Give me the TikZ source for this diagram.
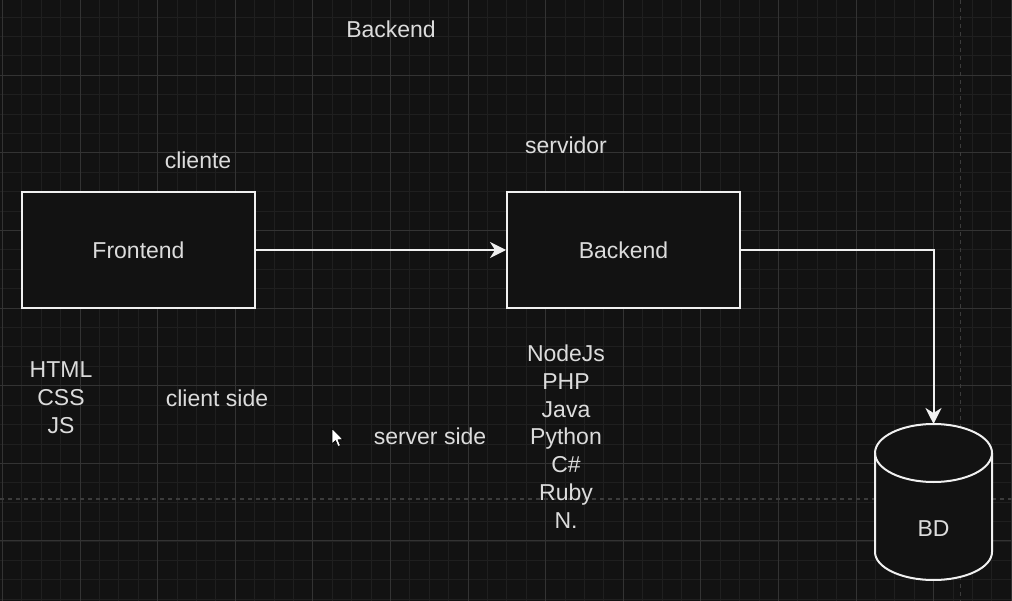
\documentclass[tikz,border=0pt]{standalone}
\usepackage{fontspec}
\setmainfont{Liberation Sans}
\usetikzlibrary{arrows.meta}
\definecolor{bg}{HTML}{121212}
\definecolor{minorgrid}{HTML}{1F1F1F}
\definecolor{majorgrid}{HTML}{333333}
\definecolor{pagegrid}{HTML}{3C3C3C}
\definecolor{ink}{HTML}{F0F0F0}
\definecolor{txt}{HTML}{DCDCDC}
\tikzset{
  minorline/.style={minorgrid, line width=0.8pt},
  majorline/.style={majorgrid, line width=1pt},
  pageline/.style={pagegrid, line width=1.2pt, dash pattern=on 4pt off 4pt},
  boxnode/.style={draw=ink, fill=bg, line width=2pt, minimum width=233pt, minimum height=116pt, inner sep=0pt, text=txt},
  lbl/.style={text=txt, inner sep=0pt, align=center, font=\fontsize{23}{27.8}\selectfont},
  conn/.style={ink, line width=2pt, -{Stealth[length=16pt, width=16pt, inset=5pt]}},
}
\begin{document}
\begin{tikzpicture}[x=1pt,y=-1pt]
\fill[bg] (0,0) rectangle (1012,601);
\useasboundingbox (0,0) rectangle (1012,601);
% grid
\foreach \i in {0,...,52} {\draw[minorline] ({2.4+\i*19.4},0) -- ({2.4+\i*19.4},601);}
\foreach \i in {0,...,31} {\draw[minorline] (0,{-2.3+\i*19.4}) -- (1012,{-2.3+\i*19.4});}
\foreach \i in {0,...,13} {\draw[majorline] ({2.4+\i*77.6},0) -- ({2.4+\i*77.6},601);}
\foreach \i in {0,...,8} {\draw[majorline] (0,{-2.3+\i*77.6}) -- (1012,{-2.3+\i*77.6});}
\draw[pageline] (960.5,0) -- (960.5,601);
\draw[pageline] (0,499) -- (1012,499);
% boxes
\node[boxnode, font=\fontsize{23}{27.8}\selectfont] (fe) at (138.5,250) {Frontend};
\node[boxnode, font=\fontsize{23}{27.8}\selectfont] (be) at (623.5,250) {Backend};
% cylinder
\fill[bg] (875,453) -- (875,552) arc[start angle=180,end angle=0,x radius=58.5,y radius=28] -- (992,453) arc[start angle=0,end angle=-180,x radius=58.5,y radius=29] -- cycle;
\draw[ink, line width=2pt] (875,453) -- (875,552) arc[start angle=180,end angle=0,x radius=58.5,y radius=28] -- (992,453) arc[start angle=0,end angle=-180,x radius=58.5,y radius=29] -- cycle;
\draw[ink, line width=2pt] (875,453) arc[start angle=180,end angle=0,x radius=58.5,y radius=29];
\coordinate (dbtop) at (933.5,424);
\node[lbl] (bd) at (933.5,529) {BD};
% connectors
\draw[conn] (fe.east) -- (be.west);
\draw[conn] (be.east) -| (dbtop);
% labels
\node[lbl] (title) at (391,29) {Backend};
\node[lbl] (cli) at (198,160) {cliente};
\node[lbl] (srv) at (566,145) {servidor};
\node[lbl] (fetech) at (61,397.5) {HTML\\CSS\\JS};
\node[lbl] (clis) at (217,398) {client side};
\node[lbl] (srvs) at (430,436) {server side};
\node[lbl] (betech) at (566,436.5) {NodeJs\\PHP\\Java\\Python\\C\#\\Ruby\\N.};
% mouse cursor
\filldraw[fill=white, draw=black, line width=0.6pt] (332,428.5) -- (332,444) -- (335.6,440.6) -- (338,446.5) -- (340.4,445.5) -- (338,439.8) -- (343,439.6) -- cycle;
\end{tikzpicture}
\end{document}
